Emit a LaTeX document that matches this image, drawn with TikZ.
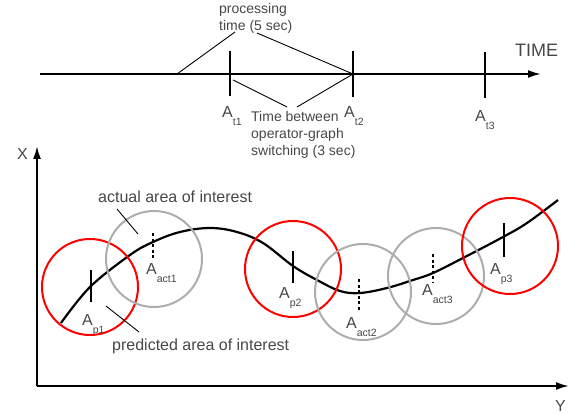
\documentclass[tikz,border=0pt]{standalone}
\usepackage{fontspec}
\setmainfont{Liberation Sans}
\usetikzlibrary{arrows.meta,positioning}
\newcommand{\Asub}[1]{A\raisebox{-8pt}{\fontsize{10.5}{11}\selectfont #1}}

\begin{document}
\begin{tikzpicture}[x=1pt, y=-1pt, every node/.style={font=\fontsize{14}{17}\selectfont, text=black!72, inner sep=0pt}]
\tikzset{tick/.style={line width=2.2pt}}
\tikzset{acttick/.style={line width=2.2pt, dash pattern=on 3pt off 2.5pt}}
\tikzset{pred/.style={draw=red, line width=2pt, circle, minimum size=96pt}}
\tikzset{act/.style={draw=black!32, line width=2pt, circle, minimum size=96pt}}
\tikzset{lead/.style={line width=0.9pt}}
\tikzset{lab/.style={anchor=base west, font=\fontsize{16}{18}\selectfont}}
\tikzset{axis/.style={line width=2pt, -{Latex[length=13pt,width=8pt]}}}
\useasboundingbox (0,0) rectangle (570,414);
% time line
\coordinate (t0) at (40,74); \coordinate (tend) at (541,74);
\draw[axis] (t0) -- (tend);
\node[anchor=base west, font=\fontsize{18}{20}\selectfont] (time) at (515,57) {TIME};
\draw[tick] (230,51) -- (230,96);
\draw[tick] (353,51) -- (353,97);
\draw[tick] (485,52) -- (485,98);
\coordinate (at2) at (353,74);
\node[lab] (lt1) at (222,118) {\Asub{t1}};
\node[lab] (lt2) at (344,118) {\Asub{t2}};
\node[lab] (lt3) at (475,122) {\Asub{t3}};
\node[anchor=base west, align=left] (proc) at (219,31) {processing\\time (5 sec)};
\node[anchor=base west, align=left] (switch) at (251,156) {Time between\\operator-graph\\switching (3 sec)};
\coordinate (pa) at (177,74); \coordinate (pb) at (235,32); \coordinate (pc) at (257,33);
\coordinate (sa) at (233,80); \coordinate (sb) at (287,107); \coordinate (sc) at (297,107);
\draw[lead] (pa) -- (pb); \draw[lead] (pc) -- (at2);
\draw[lead] (sa) -- (sb); \draw[lead] (sc) -- (at2);
% axes
\coordinate (o) at (37,386); \coordinate (xend) at (37,146); \coordinate (yend) at (569,386);
\draw[axis] (o) -- (xend);
\draw[axis] (o) -- (yend);
\node[lab] (xl) at (17,160) {X};
\node[lab] (yl) at (555,411) {Y};
% path
\draw[line width=2.2pt] plot[smooth, tension=0.6] coordinates {(61,323) (90,287) (130,255) (153,242) (180,232) (210,228) (237,232) (263,243) (293,266) (317,280) (340,291) (360,293) (387,288) (413,280) (433,273) (463,258) (503,237) (527,223) (558,200)};
% areas of interest
\node[pred] (p1) at (90,287) {};
\node[act] (a1) at (154,259) {};
\node[pred] (p2) at (293,269) {};
\node[act] (a2) at (363,292) {};
\node[act] (a3) at (436,276) {};
\node[pred] (p3) at (510,246) {};
\draw[tick] (91,270) -- (91,302);
\draw[acttick] (153,233) -- (153,258);
\draw[tick] (293,251) -- (293,283);
\draw[acttick] (359,279) -- (359,310);
\draw[acttick] (433,254) -- (433,282);
\draw[tick] (504,223) -- (504,257);
\node[lab] (lp1) at (82,325) {\Asub{p1}};
\node[lab] (la1) at (146,274) {\Asub{act1}};
\node[lab] (lp2) at (279,298) {\Asub{p2}};
\node[lab] (la2) at (346,328) {\Asub{act2}};
\node[lab] (la3) at (422,295) {\Asub{act3}};
\node[lab] (lp3) at (490,274) {\Asub{p3}};
\node[anchor=base west, font=\fontsize{16}{18}\selectfont] (actual) at (98,203) {actual area of interest};
\node[anchor=base west, font=\fontsize{16}{18}\selectfont] (predicted) at (112,350) {predicted area of interest};
\coordinate (aa) at (117,209); \coordinate (ab) at (138,234);
\coordinate (qa) at (106,306); \coordinate (qb) at (139,332);
\draw[lead] (aa) -- (ab);
\draw[lead] (qa) -- (qb);
\end{tikzpicture}
\end{document}
